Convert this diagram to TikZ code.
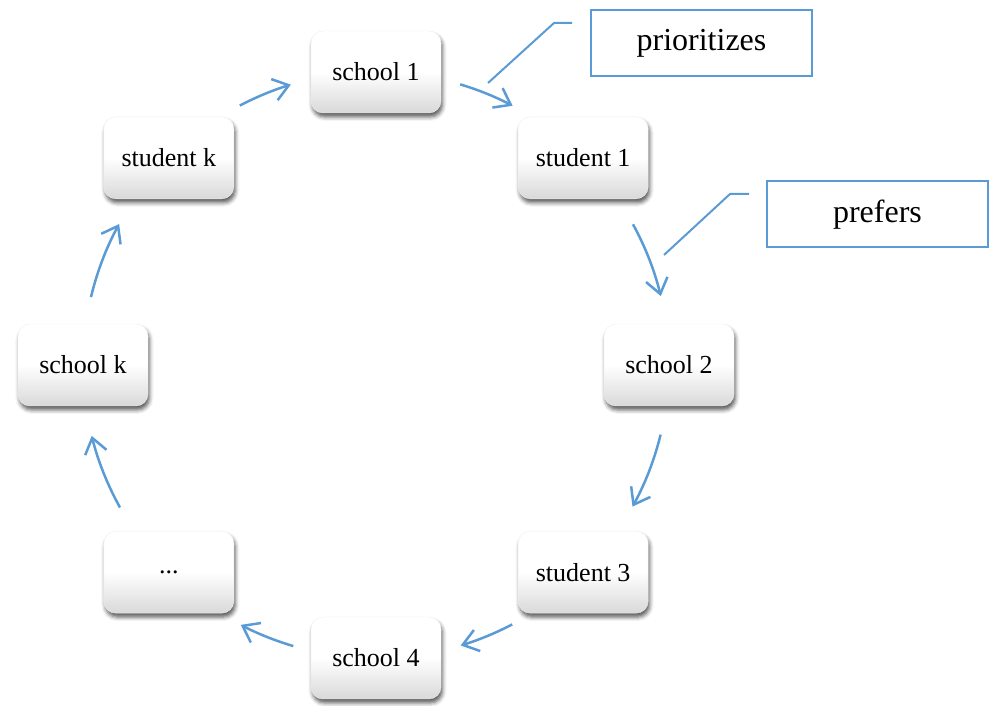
\documentclass[tikz,border=0pt]{standalone}
\usepackage{fontspec}
\setmainfont{Liberation Serif}
\usetikzlibrary{arrows.meta,shadows.blur}
\definecolor{cblue}{HTML}{5B9BD5}
\begin{document}
\begin{tikzpicture}[x=1pt,y=1pt,
  box/.style={rounded corners=12pt, minimum width=130pt, minimum height=82pt, inner sep=0pt,
    draw=black!6, top color=white, bottom color=black!15, middle color=white,
    blur shadow={shadow xshift=1.5pt, shadow yshift=-4pt, shadow blur radius=4pt, shadow opacity=65},
    font=\fontsize{26}{30}\selectfont},
  arr/.style={cblue, line width=2.5pt, -{Straight Barb[length=15pt,width=22pt,line width=2.5pt]}},
  note/.style={draw=cblue, line width=2pt, minimum width=221pt, minimum height=66pt, inner sep=0pt,
    font=\fontsize{32}{38}\selectfont},
  lead/.style={cblue, line width=2pt}]
\useasboundingbox (0,0) rectangle (989,706);
\coordinate (c) at (376,341);
\node[box] (sc1) at ([shift={(90:293)}]c) {school 1};
\node[box] (st1) at ([shift={(45:293)}]c) {student 1};
\node[box] (sc2) at ([shift={(0:293)}]c) {school 2};
\node[box] (st3) at ([shift={(-45:293)}]c) {student 3};
\node[box] (sc4) at ([shift={(-90:293)}]c) {school 4};
\node[box] (dots) at ([shift={(-135:293)}]c) {...};
\node[box] (sck) at ([shift={(180:293)}]c) {school k};
\node[box] (stk) at ([shift={(135:293)}]c) {student k};
\foreach \s/\e/\n in {73.3/62.2/1, 28.7/13.6/2, -13.75/-28.9/3, -62.3/-73.2/4,
    -106.4/-117.5/5, -150.9/-166/6, 166.6/151.25/7, 117.7/106.9/8} {
  \coordinate (a\n s) at ([shift={(\s:293)}]c);
  \draw[arr] (a\n s) arc[start angle=\s, end angle=\e, radius=293];
}
\node[note] (pri) at (701.5,663) {prioritizes};
\node[note] (pre) at (877.5,491.5) {prefers};
\coordinate (p1) at (488,623);
\coordinate (p2) at (554,683);
\coordinate (p3) at (572,683);
\draw[lead] (p1) -- (p2) -- (p3);
\coordinate (q1) at (664,451);
\coordinate (q2) at (730,512);
\coordinate (q3) at (749,512);
\draw[lead] (q1) -- (q2) -- (q3);
\end{tikzpicture}
\end{document}
